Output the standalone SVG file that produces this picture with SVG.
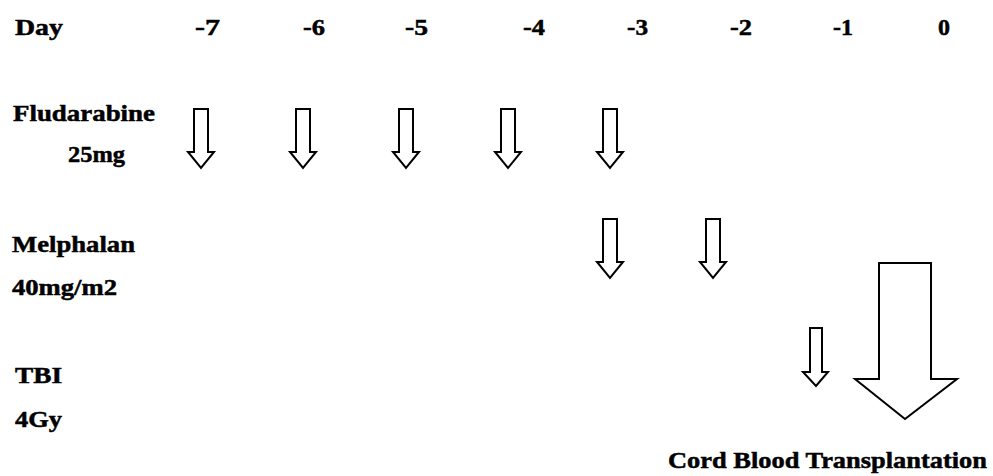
<svg xmlns="http://www.w3.org/2000/svg" xmlns:xlink="http://www.w3.org/1999/xlink" width="993" height="476" viewBox="0 0 993 476">
  <style>
    .lbl { fill: #000; stroke: #000; stroke-width: 0.5; }
    .arrow { fill: #fff; stroke: #000; stroke-width: 2; stroke-linejoin: miter; }
  </style>
  <defs>
    <!-- hollow dose arrow, tip at origin -->
    <path id="dose" d="M-7,-59 H7 V-16 H13 L0,0 L-13,-16 H-7 Z"/>
  </defs>
  <rect width="993" height="476" fill="#fff"/>

  <g font-family="Liberation Serif, serif" font-weight="bold" font-size="24" class="lbl">
    <g id="day-axis">
      <text x="15" y="35" textLength="48" lengthAdjust="spacingAndGlyphs">Day</text>
      <text x="195" y="35" textLength="25" lengthAdjust="spacingAndGlyphs">-7</text>
      <text x="303" y="35" textLength="22" lengthAdjust="spacingAndGlyphs">-6</text>
      <text x="405" y="35" textLength="23" lengthAdjust="spacingAndGlyphs">-5</text>
      <text x="523" y="35" textLength="22" lengthAdjust="spacingAndGlyphs">-4</text>
      <text x="627" y="35" textLength="21" lengthAdjust="spacingAndGlyphs">-3</text>
      <text x="730" y="35" textLength="22" lengthAdjust="spacingAndGlyphs">-2</text>
      <text x="833" y="35" textLength="20" lengthAdjust="spacingAndGlyphs">-1</text>
      <text x="938" y="35" textLength="12" lengthAdjust="spacingAndGlyphs">0</text>
    </g>

    <g id="fludarabine">
      <text x="13" y="121" textLength="142" lengthAdjust="spacingAndGlyphs">Fludarabine</text>
      <text x="68" y="162" textLength="57" lengthAdjust="spacingAndGlyphs">25mg</text>
    </g>

    <g id="melphalan">
      <text x="12" y="252" textLength="123" lengthAdjust="spacingAndGlyphs">Melphalan</text>
      <text x="12" y="295" textLength="105" lengthAdjust="spacingAndGlyphs">40mg/m2</text>
    </g>

    <g id="tbi">
      <text x="15" y="383" textLength="47" lengthAdjust="spacingAndGlyphs">TBI</text>
      <text x="15" y="427" textLength="47" lengthAdjust="spacingAndGlyphs">4Gy</text>
    </g>

    <g id="transplant">
      <text x="668" y="468" textLength="319" lengthAdjust="spacingAndGlyphs">Cord Blood Transplantation</text>
    </g>
  </g>

  <g id="connectors">
    <!-- fludarabine, days -7 to -3 -->
    <use xlink:href="#dose" class="arrow" x="201" y="168"/>
    <use xlink:href="#dose" class="arrow" x="303" y="168"/>
    <use xlink:href="#dose" class="arrow" x="406" y="168"/>
    <use xlink:href="#dose" class="arrow" x="508" y="168"/>
    <use xlink:href="#dose" class="arrow" x="610" y="168"/>
    <!-- melphalan, days -3 and -2 -->
    <use xlink:href="#dose" class="arrow" x="610" y="278"/>
    <use xlink:href="#dose" class="arrow" x="713" y="278"/>
    <!-- TBI, day -1 -->
    <path class="arrow" d="M810,328 H822 V372 H828 L816,386 L803,372 H810 Z"/>
    <!-- cord blood transplantation, day 0 -->
    <path class="arrow" d="M879,263 H931 V379 H957 L905,419 L855,379 H879 Z"/>
  </g>
</svg>
